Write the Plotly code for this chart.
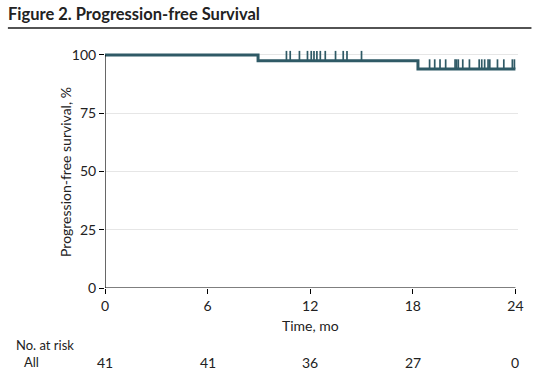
import plotly.graph_objects as go

# ---- data ----
step_times = [0, 8.95, 18.3, 24]
step_surv = [100, 97.56, 93.95, 93.95]
censor_times_1 = [10.61, 10.83, 11.37, 11.84, 12.06, 12.22, 12.39, 12.59, 12.88, 13.48, 13.93, 14.15, 15.00]
censor_level_1 = 97.56
censor_times_2 = [18.98, 19.28, 19.59, 19.92, 20.47, 20.56, 20.66, 20.92, 21.31, 21.88, 22.03, 22.20,
                  22.40, 22.50, 22.95, 23.32, 23.82, 23.94]
censor_level_2 = 93.95
x_ticks = [0, 6, 12, 18, 24]
y_ticks = [0, 25, 50, 75, 100]
at_risk_times = [0, 6, 12, 18, 24]
at_risk_all = [41, 41, 36, 27, 0]

FONT = "Lato, sans-serif"
LINE_COLOR = "#2f5a66"
TEXT = "#222222"

# page body margin is removed by post_script, so figure fills the window
OFF = 0
W, H = 547 - OFF, 375 - OFF
L, T, B = 105 - OFF, 48 - OFF, 87
X_MAX = 24.15
Y_MAX = 103
plot_w = 410 * X_MAX / 24
R = W - L - plot_w
plot_h = H - T - B


def py(p):
    # p is a pixel y in the reference window
    return (H - B - (p - OFF)) / plot_h


def px(p):
    return ((p - OFF) - L) / plot_w


fig = go.Figure()

fig.add_trace(go.Scatter(x=step_times, y=step_surv, mode="lines", line_shape="hv",
                         line=dict(color=LINE_COLOR, width=3), hoverinfo="skip", showlegend=False))

tick_h = 4.2
cx, cy = [], []
for t in censor_times_1:
    cx += [t, t, None]
    cy += [censor_level_1, censor_level_1 + tick_h, None]
for t in censor_times_2:
    cx += [t, t, None]
    cy += [censor_level_2, censor_level_2 + tick_h, None]
fig.add_trace(go.Scatter(x=cx, y=cy, mode="lines", line=dict(color=LINE_COLOR, width=1.7),
                         hoverinfo="skip", showlegend=False))

# axis lines
fig.add_shape(type="line", x0=0, x1=24, y0=0, y1=0, xref="x", yref="y",
              line=dict(color="black", width=1.2), layer="above")
fig.add_shape(type="line", x0=0, x1=0, y0=0, y1=100, xref="x", yref="y",
              line=dict(color="black", width=1.2), layer="above")
# header rule
fig.add_shape(type="line", x0=px(8), x1=px(531), y0=py(28), y1=py(28), xref="paper", yref="paper",
              line=dict(color="#1a1a1a", width=1.5))

ann = []
ann.append(dict(text="<b>Figure 2. Progression-free Survival</b>", x=px(7), y=py(14), xref="paper",
                yref="paper", xanchor="left", yanchor="middle", showarrow=False, borderpad=0,
                font=dict(family=FONT, size=16.5, color=TEXT)))
ann.append(dict(text="Time, mo", x=12, y=py(325), xref="x", yref="paper", xanchor="center",
                yanchor="middle", showarrow=False, font=dict(family=FONT, size=14, color=TEXT)))
ann.append(dict(text="Progression-free survival, %", x=px(65), y=py(172), xref="paper", yref="paper",
                xanchor="center", yanchor="middle", textangle=-90, showarrow=False,
                font=dict(family=FONT, size=14, color=TEXT)))
ann.append(dict(text="No. at risk", x=px(14), y=py(345), xref="paper", yref="paper", xanchor="left",
                yanchor="middle", showarrow=False, font=dict(family=FONT, size=13, color=TEXT)))
ann.append(dict(text="All", x=px(22), y=py(362), xref="paper", yref="paper", xanchor="left",
                yanchor="middle", showarrow=False, font=dict(family=FONT, size=13, color=TEXT)))
for t, n in zip(at_risk_times, at_risk_all):
    ann.append(dict(text=str(n), x=t, y=py(362), xref="x", yref="paper", xanchor="center",
                    yanchor="middle", showarrow=False, font=dict(family=FONT, size=14, color=TEXT)))

fig.update_layout(
    width=W, height=H,
    margin=dict(l=L, r=R, t=T, b=B, pad=0),
    paper_bgcolor="white", plot_bgcolor="white",
    annotations=ann,
    xaxis=dict(range=[0, X_MAX], tickvals=x_ticks, ticks="outside", ticklen=5, tickcolor="black",
               showline=False, showgrid=False, zeroline=False,
               tickfont=dict(family=FONT, size=14, color=TEXT), fixedrange=True),
    yaxis=dict(range=[0, Y_MAX], tickvals=y_ticks, ticks="outside", ticklen=5, tickcolor="black",
               showline=False, showgrid=True, gridcolor="#e6e6e6", gridwidth=1, zeroline=False,
               tickfont=dict(family=FONT, size=14, color=TEXT), fixedrange=True),
    showlegend=False,
)

fig.write_html("out.html", config={"displayModeBar": False},
               post_script="document.body.style.margin='0';document.body.style.overflow='hidden';")
